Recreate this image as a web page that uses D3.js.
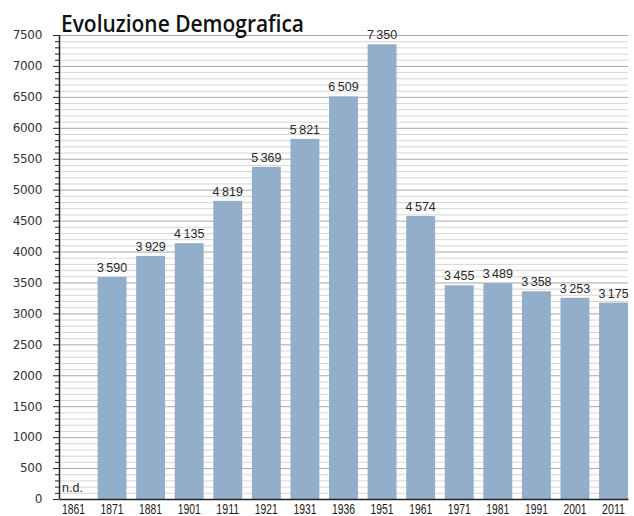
<!DOCTYPE html>
<html>
<head>
<meta charset="utf-8">
<script src="https://cdn.jsdelivr.net/npm/d3@7"></script>
<style>
  html, body { margin: 0; padding: 0; background: #fff; }
  svg { display: block; }
</style>
</head>
<body>
<svg id="chart" width="634" height="516"></svg>
<script>
// Evoluzione demografica - censimenti
const YEARS = ['1861', '1871', '1881', '1901', '1911', '1921', '1931', '1936', '1951', '1961', '1971', '1981', '1991', '2001', '2011'];
const POPULATION = [null, 3590, 3929, 4135, 4819, 5369, 5821, 6509, 7350, 4574, 3455, 3489, 3358, 3253, 3175];
const Y_MAJOR_TICKS = [0, 500, 1000, 1500, 2000, 2500, 3000, 3500, 4000, 4500, 5000, 5500, 6000, 6500, 7000, 7500];
const TITLE = 'Evoluzione Demografica';
const MISSING_LABEL = 'n.d.';

const BAR_COLOR = '#93aecb';
const TEXT_COLOR = '#2a2a2a';
const MAJOR_GRID = '#a8a8a8';
const MINOR_GRID = '#d6d6d6';
const FONT = '"Liberation Sans", Arial, sans-serif';
const WIDE_FONT = '"DejaVu Sans", Verdana, sans-serif';

const MARGIN = { top: 35, right: 6, bottom: 17, left: 59 };
const WIDTH = 634, HEIGHT = 516;

const svg = d3.select('#chart');
const plotH = HEIGHT - MARGIN.top - MARGIN.bottom;

const x = d3.scaleBand()
    .domain(YEARS)
    .range([0, 569])
    .paddingInner(0.25)
    .paddingOuter(0);

const y = d3.scaleLinear()
    .domain([0, 7500])
    .range([plotH, 0]);

const g = svg.append('g')
    .attr('transform', `translate(${MARGIN.left},${MARGIN.top})`);

// grid: minor every 100, major every 500
const minorTicks = d3.range(100, 7501, 100).filter(d => d % 500 !== 0);
g.append('g').selectAll('line')
    .data(minorTicks)
    .enter().append('line')
    .attr('x1', 0).attr('x2', 569)
    .attr('y1', d => y(d) + 0.5).attr('y2', d => y(d) + 0.5)
    .attr('stroke', MINOR_GRID)
    .attr('stroke-width', 1);

g.append('g').selectAll('line')
    .data(Y_MAJOR_TICKS.filter(d => d > 0))
    .enter().append('line')
    .attr('x1', 0).attr('x2', 569)
    .attr('y1', d => y(d) + 0.5).attr('y2', d => y(d) + 0.5)
    .attr('stroke', MAJOR_GRID)
    .attr('stroke-width', 1);

// bars
const data = YEARS.map((year, i) => ({ year, value: POPULATION[i] }));

g.selectAll('.bar')
    .data(data.filter(d => d.value != null))
    .enter().append('rect')
    .attr('class', 'bar')
    .attr('x', d => x(d.year))
    .attr('width', x.bandwidth())
    .attr('y', d => y(d.value))
    .attr('height', d => plotH - y(d.value))
    .attr('fill', BAR_COLOR);

// value labels with thin space thousands separator
const itFormat = d3.formatLocale({ decimal: ',', thousands: '\u2009', grouping: [3], currency: ['', ' €'] }).format(',d');

g.selectAll('.value-label')
    .data(data.filter(d => d.value != null))
    .enter().append('text')
    .attr('class', 'value-label')
    .attr('x', d => x(d.year) + x.bandwidth() / 2)
    .attr('y', d => y(d.value) - 5)
    .attr('text-anchor', 'middle')
    .style('font-family', FONT)
    .style('font-size', '12.5px')
    .style('fill', TEXT_COLOR)
    .text(d => itFormat(d.value));

g.selectAll('.nd-label')
    .data(data.filter(d => d.value == null))
    .enter().append('text')
    .attr('class', 'nd-label')
    .attr('x', d => x(d.year) + 3)
    .attr('y', plotH - 7)
    .style('font-family', FONT)
    .style('font-size', '12.5px')
    .style('fill', TEXT_COLOR)
    .text(MISSING_LABEL);

// y axis: major ticks with labels, minor ticks without
const yMinorAxis = d3.axisLeft(y).tickValues(minorTicks).tickSize(4).tickFormat('');
g.append('g')
    .attr('class', 'y-minor')
    .call(yMinorAxis)
    .call(a => a.select('.domain').remove())
    .call(a => a.selectAll('line').attr('stroke', '#222'));

const yAxis = d3.axisLeft(y).tickValues(Y_MAJOR_TICKS).tickSize(6).tickPadding(11).tickFormat(d => d);
g.append('g')
    .attr('class', 'y-axis')
    .call(yAxis)
    .call(a => a.select('.domain').attr('stroke', '#222').attr('stroke-width', 1.5).attr('d', `M0.5,0V${plotH}`))
    .call(a => a.selectAll('line').attr('stroke', '#222'))
    .call(a => a.selectAll('text')
        .style('font-family', WIDE_FONT)
        .style('font-size', '12px')
        .style('letter-spacing', '-0.3px')
        .style('fill', '#333'));

// x axis (narrow labels)
const xAxis = d3.axisBottom(x).tickSize(0).tickPadding(4);
g.append('g')
    .attr('class', 'x-axis')
    .attr('transform', `translate(0,${plotH})`)
    .call(xAxis)
    .call(a => a.select('.domain').attr('stroke', '#222').attr('stroke-width', 1.5))
    .call(a => a.selectAll('text')
        .attr('textLength', 23)
        .attr('lengthAdjust', 'spacingAndGlyphs')
        .style('font-family', FONT)
        .style('font-size', '15px')
        .style('fill', '#1a1a1a'));

// title
svg.append('text')
    .attr('x', 61)
    .attr('y', 32)
    .attr('textLength', 243)
    .attr('lengthAdjust', 'spacingAndGlyphs')
    .style('font-family', '"Open Sans", sans-serif')
    .style('font-weight', '600')
    .style('font-size', '23px')
    .style('fill', '#111')
    .text(TITLE);
</script>
</body>
</html>
